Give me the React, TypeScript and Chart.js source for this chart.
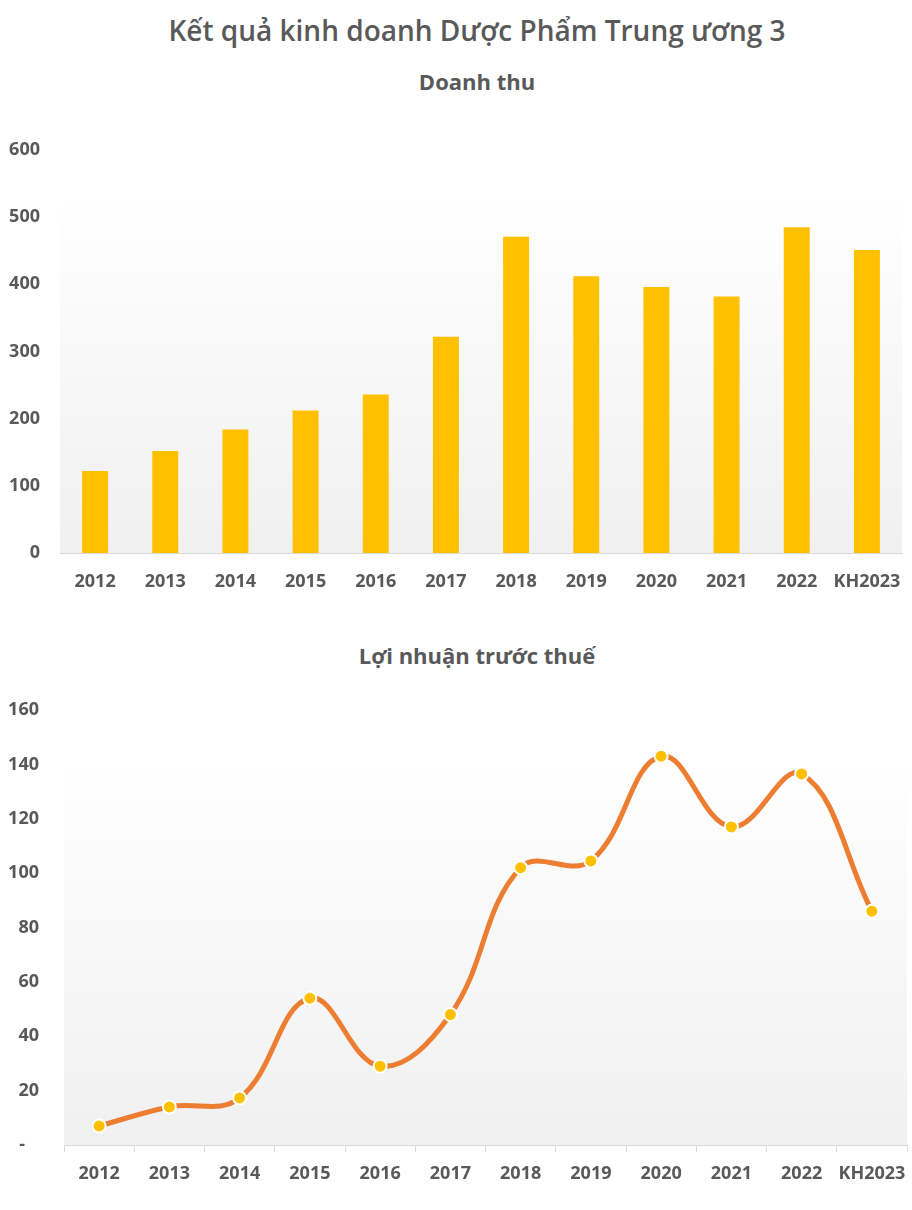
import React, { useEffect, useRef } from "react";
import { Chart, registerables } from "chart.js";
Chart.register(...registerables);

const mainTitle = "Kết quả kinh doanh Dược Phẩm Trung ương 3";
const revenueTitle = "Doanh thu";
const profitTitle = "Lợi nhuận trước thuế";

const categories = ["2012", "2013", "2014", "2015", "2016", "2017", "2018", "2019", "2020", "2021", "2022", "KH2023"];
const revenue = [122, 152, 184, 212, 236, 322, 471, 412, 396, 382, 485, 451];
const profit = [7, 14, 17.3, 54, 29, 48, 102, 104.5, 143, 117, 136.5, 86];
const revenueTicks = [0, 100, 200, 300, 400, 500, 600];
const profitTicks = [0, 20, 40, 60, 80, 100, 120, 140, 160];

const FONT = "'Open Sans', 'Noto Sans', sans-serif";
const TEXT = "#595959";
const CANVAS_W = 930;

const bgPlugin = {
  id: "plotBg",
  beforeDraw(chart: any) {
    const { ctx, chartArea: a } = chart;
    if (!a) return;
    const g = ctx.createLinearGradient(0, a.top, 0, a.bottom);
    g.addColorStop(0, "#ffffff");
    g.addColorStop(0.12, "#ffffff");
    g.addColorStop(1, "#f0f0f0");
    ctx.save();
    ctx.fillStyle = g;
    ctx.fillRect(a.left, a.top, a.right - a.left, a.bottom - a.top);
    ctx.restore();
  },
};

function RevenueChart() {
  const ref = useRef<HTMLCanvasElement>(null);
  useEffect(() => {
    const chart = new Chart(ref.current as HTMLCanvasElement, {
      type: "bar",
      data: {
        labels: categories,
        datasets: [
          {
            label: revenueTitle,
            data: revenue,
            backgroundColor: "#FFC000",
            barPercentage: 0.74,
            categoryPercentage: 0.5,
          },
        ],
      },
      plugins: [bgPlugin],
      options: {
        responsive: false,
        animation: false,
        layout: { padding: { top: 50, bottom: 17, left: 0, right: 28 } },
        plugins: { legend: { display: false }, tooltip: { enabled: false }, title: { display: false } },
        scales: {
          x: {
            grid: { display: false, drawTicks: false },
            border: { display: true, color: "#d9d9d9", width: 1 },
            ticks: { color: TEXT, font: { family: FONT, size: 18, weight: "bold" }, padding: 18, maxRotation: 0, autoSkip: false },
            afterFit: (s: any) => { s.height = 40; },
          },
          y: {
            min: 0,
            max: 600,
            afterBuildTicks: (s: any) => { s.ticks = revenueTicks.map((v) => ({ value: v })); },
            grid: { display: false, drawTicks: false },
            border: { display: false },
            ticks: { color: TEXT, font: { family: FONT, size: 18, weight: "bold" }, padding: 20 },
            afterFit: (s: any) => { s.width = 60; },
          },
        },
      },
    });
    return () => chart.destroy();
  }, []);
  return <canvas ref={ref} width={CANVAS_W} height={510} style={{ position: "absolute", left: 0, top: 100, width: CANVAS_W, height: 510 }} />;
}

function ProfitChart() {
  const ref = useRef<HTMLCanvasElement>(null);
  useEffect(() => {
    const chart = new Chart(ref.current as HTMLCanvasElement, {
      type: "line",
      data: {
        labels: categories,
        datasets: [
          {
            label: profitTitle,
            data: profit,
            borderColor: "#ED7D31",
            borderWidth: 5,
            tension: 0.4,
            pointRadius: 6.5,
            pointBackgroundColor: "#FFC000",
            pointBorderColor: "#ffffff",
            pointBorderWidth: 2,
            fill: false,
          },
        ],
      },
      plugins: [bgPlugin],
      options: {
        responsive: false,
        animation: false,
        layout: { padding: { top: 60, bottom: 25, left: 0, right: 23 } },
        plugins: { legend: { display: false }, tooltip: { enabled: false }, title: { display: false } },
        scales: {
          x: {
            offset: true,
            grid: { display: true, drawOnChartArea: false, drawTicks: true, tickLength: 7, color: "#d9d9d9", offset: true },
            border: { display: true, color: "#d9d9d9", width: 1 },
            ticks: { color: TEXT, font: { family: FONT, size: 18, weight: "bold" }, padding: 11, maxRotation: 0, autoSkip: false },
            afterFit: (s: any) => { s.height = 40; },
          },
          y: {
            min: 0,
            max: 160,
            afterBuildTicks: (s: any) => { s.ticks = profitTicks.map((v) => ({ value: v })); },
            grid: { display: false, drawTicks: false },
            border: { display: false },
            ticks: {
              color: TEXT,
              font: { family: FONT, size: 18, weight: "bold" },
              padding: 25,
              callback: (v: any) => (Number(v) === 0 ? "-   " : String(v)),
            },
            afterFit: (s: any) => { s.width = 64; },
          },
        },
      },
    });
    return () => chart.destroy();
  }, []);
  return <canvas ref={ref} width={CANVAS_W} height={560} style={{ position: "absolute", left: 0, top: 650, width: CANVAS_W, height: 560 }} />;
}

export default function App() {
  const titleStyle: React.CSSProperties = {
    position: "absolute",
    left: 42,
    width: 870,
    textAlign: "center",
    fontFamily: FONT,
    color: TEXT,
    whiteSpace: "nowrap",
    margin: 0,
  };
  return (
    <div style={{ position: "absolute", left: 0, top: 0, width: 912, height: 1210, background: "#ffffff", overflow: "hidden" }}>
      <div style={{ ...titleStyle, top: 11, fontSize: 28, fontWeight: 600, lineHeight: "38px" }}>{mainTitle}</div>
      <div style={{ ...titleStyle, top: 66, fontSize: 22, fontWeight: 700, lineHeight: "30px" }}>{revenueTitle}</div>
      <div style={{ ...titleStyle, top: 640, fontSize: 22, fontWeight: 700, lineHeight: "30px" }}>{profitTitle}</div>
      <RevenueChart />
      <ProfitChart />
    </div>
  );
}
